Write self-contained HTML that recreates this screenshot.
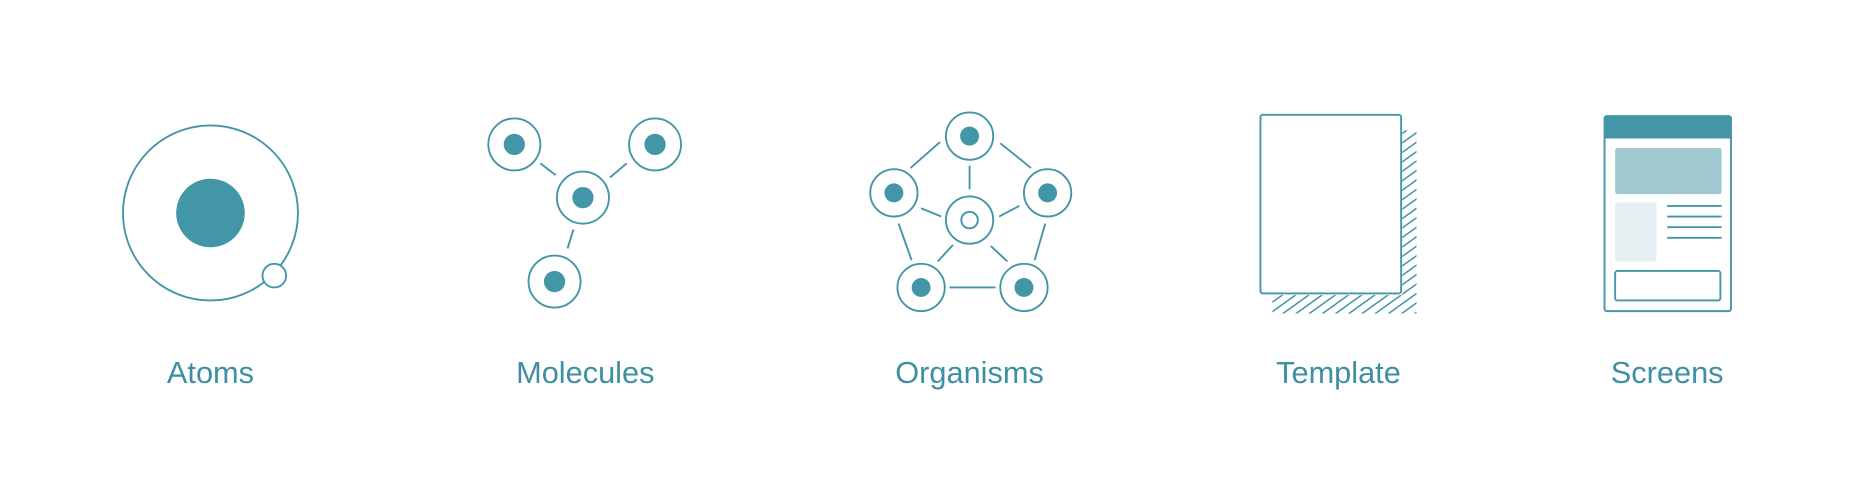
<!DOCTYPE html>
<html><head><meta charset="utf-8"><style>
html,body{margin:0;padding:0;background:#fff;}
svg{display:block;}
text{font-family:"Liberation Sans",sans-serif;font-size:26px;fill:#3f8fa3;text-anchor:middle;}
</style></head><body>
<svg width="1854" height="504" viewBox="0 0 1568 426" xmlns="http://www.w3.org/2000/svg">
<defs>
<clipPath id="hc"><path d="M1186,110 H1198 V265 H1076 V249.5 H1186 Z"/></clipPath>
</defs>
<g fill="none" stroke="#4396a8" stroke-width="1.6">
<circle cx="178" cy="180" r="74"/>
<circle cx="178" cy="180" r="29" fill="#4396a8" stroke="none"/>
<circle cx="232" cy="233" r="10" fill="#fff"/>
<circle cx="435" cy="122" r="22"/><circle cx="554" cy="122" r="22"/>
<circle cx="493" cy="167" r="22"/><circle cx="469" cy="238" r="22"/>
<line x1="457" y1="138" x2="470" y2="148"/>
<line x1="530" y1="138" x2="516" y2="150"/>
<line x1="485" y1="194" x2="480" y2="210"/>
<circle cx="820" cy="115" r="20"/><circle cx="756" cy="163" r="20"/>
<circle cx="886" cy="163" r="20"/><circle cx="779" cy="243" r="20"/>
<circle cx="866" cy="243" r="20"/><circle cx="820" cy="186" r="20"/>
<circle cx="820" cy="186" r="7"/>
<line x1="770" y1="142" x2="795" y2="120"/>
<line x1="846" y1="121" x2="872" y2="142"/>
<line x1="820" y1="140" x2="820" y2="160"/>
<line x1="779" y1="176" x2="796" y2="183"/>
<line x1="845" y1="183" x2="862" y2="174"/>
<line x1="760" y1="189" x2="771" y2="220"/>
<line x1="884" y1="189" x2="875" y2="220"/>
<line x1="793" y1="221" x2="806" y2="207"/>
<line x1="838" y1="208" x2="852" y2="221"/>
<line x1="803" y1="243" x2="842" y2="243"/>
<rect x="1066" y="97" width="119" height="151" rx="2"/>
</g>
<g fill="#4396a8">
<circle cx="435" cy="122" r="9"/><circle cx="554" cy="122" r="9"/>
<circle cx="493" cy="167" r="9"/><circle cx="469" cy="238" r="9"/>
<circle cx="820" cy="115" r="8"/><circle cx="756" cy="163" r="8"/>
<circle cx="886" cy="163" r="8"/><circle cx="779" cy="243" r="8"/>
<circle cx="866" cy="243" r="8"/>
</g>
<g clip-path="url(#hc)" stroke="#4396a8" stroke-width="1.3">
<line x1="1060" y1="123" x2="1240" y2="-6"/>
<line x1="1060" y1="131" x2="1240" y2="2"/>
<line x1="1060" y1="139" x2="1240" y2="10"/>
<line x1="1060" y1="147" x2="1240" y2="18"/>
<line x1="1060" y1="155" x2="1240" y2="26"/>
<line x1="1060" y1="163" x2="1240" y2="34"/>
<line x1="1060" y1="171" x2="1240" y2="42"/>
<line x1="1060" y1="179" x2="1240" y2="50"/>
<line x1="1060" y1="187" x2="1240" y2="58"/>
<line x1="1060" y1="195" x2="1240" y2="66"/>
<line x1="1060" y1="203" x2="1240" y2="74"/>
<line x1="1060" y1="211" x2="1240" y2="82"/>
<line x1="1060" y1="219" x2="1240" y2="90"/>
<line x1="1060" y1="227" x2="1240" y2="98"/>
<line x1="1060" y1="235" x2="1240" y2="106"/>
<line x1="1060" y1="243" x2="1240" y2="114"/>
<line x1="1060" y1="251" x2="1240" y2="122"/>
<line x1="1060" y1="259" x2="1240" y2="130"/>
<line x1="1060" y1="267" x2="1240" y2="138"/>
<line x1="1060" y1="275" x2="1240" y2="146"/>
<line x1="1060" y1="283" x2="1240" y2="154"/>
<line x1="1060" y1="291" x2="1240" y2="162"/>
<line x1="1060" y1="299" x2="1240" y2="170"/>
<line x1="1060" y1="307" x2="1240" y2="178"/>
<line x1="1060" y1="315" x2="1240" y2="186"/>
<line x1="1060" y1="323" x2="1240" y2="194"/>
<line x1="1060" y1="331" x2="1240" y2="202"/>
<line x1="1060" y1="339" x2="1240" y2="210"/>
<line x1="1060" y1="347" x2="1240" y2="218"/>
<line x1="1060" y1="355" x2="1240" y2="226"/>
<line x1="1060" y1="363" x2="1240" y2="234"/>
<line x1="1060" y1="371" x2="1240" y2="242"/>
<line x1="1060" y1="379" x2="1240" y2="250"/>
<line x1="1060" y1="387" x2="1240" y2="258"/>
<line x1="1060" y1="395" x2="1240" y2="266"/>
<line x1="1060" y1="403" x2="1240" y2="274"/>
</g>
<rect x="1357" y="98" width="107" height="165" rx="2" fill="none" stroke="#4396a8" stroke-width="1.6"/>
<path d="M1357,117 V100 a2,2 0 0 1 2,-2 H1462 a2,2 0 0 1 2,2 V117 Z" fill="#4396a8"/>
<rect x="1366" y="125" width="90" height="39" rx="2" fill="#9fc8d1"/>
<rect x="1366" y="171" width="35" height="50" rx="2" fill="#e6f0f2"/>
<g stroke="#4396a8" stroke-width="1.6">
<line x1="1410" y1="174" x2="1456" y2="174"/>
<line x1="1410" y1="183" x2="1456" y2="183"/>
<line x1="1410" y1="192" x2="1456" y2="192"/>
<line x1="1410" y1="201" x2="1456" y2="201"/>
</g>
<rect x="1366" y="229" width="89" height="25" rx="2" fill="none" stroke="#4396a8" stroke-width="1.6"/>
<text x="178" y="324">Atoms</text>
<text x="495" y="324">Molecules</text>
<text x="820" y="324">Organisms</text>
<text x="1132" y="324">Template</text>
<text x="1410" y="324">Screens</text>
</svg>
</body></html>
